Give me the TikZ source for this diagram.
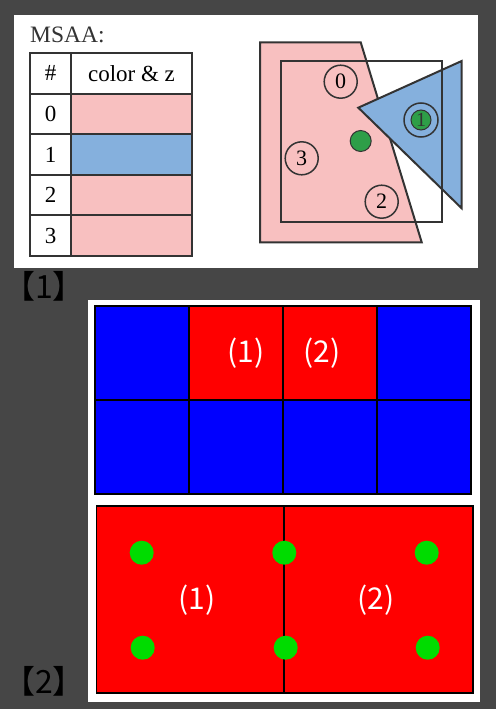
\documentclass[tikz,border=0pt]{standalone}
\usepackage{fontspec}
\setmainfont{Liberation Serif}
\newfontfamily\cjk{Noto Sans CJK SC}
\definecolor{bg}{RGB}{70,70,70}
\definecolor{pinkf}{RGB}{248,192,192}
\definecolor{bluef}{RGB}{133,176,221}
\definecolor{lineg}{RGB}{51,51,51}
\definecolor{greenf}{RGB}{46,158,72}
\definecolor{dotg}{RGB}{0,220,0}
\definecolor{pblue}{RGB}{0,0,255}
\definecolor{pred}{RGB}{255,0,0}
\begin{document}
\begin{tikzpicture}[x=1pt,y=-1pt,
  tcell/.style={draw=lineg,line width=2pt,minimum height=40.6pt,inner sep=0pt,
     font=\fontsize{23}{25}\selectfont},
  numcell/.style={tcell,minimum width=41pt,fill=white},
  colcell/.style={tcell,minimum width=121pt},
  sample/.style={circle,draw=lineg,line width=1.5pt,minimum size=33pt,inner sep=0pt,
     font=\fontsize{22}{24}\selectfont},
  gdot/.style={circle,fill=greenf,draw=lineg,line width=1pt,minimum size=21pt,inner sep=0pt},
  shapeline/.style={draw=lineg,line width=2pt,line join=miter},
  gridcell/.style={draw=black,line width=1.8pt,minimum width=93.9pt,minimum height=94.1pt,inner sep=0pt},
  wlabel/.style={text=white,font=\cjk\fontsize{30}{32}\selectfont},
  mdot/.style={circle,fill=dotg,minimum size=24pt,inner sep=0pt},
  tag/.style={text=black,font=\cjk\fontsize{32}{34}\selectfont,inner sep=0pt}]
\fill[bg] (0,0) rectangle (496,709);
\useasboundingbox (0,0) rectangle (496,709);
% ---------- panel 1 ----------
\fill[white] (14,15) rectangle (478,268);
\node[anchor=base west,inner sep=0pt,font=\fontsize{23.5}{25}\selectfont,text=lineg] (title) at (30,43) {MSAA:};
\node[numcell] (h0) at (50.5,73.3) {\#};
\node[colcell,fill=white] (h1) at (131.5,73.3) {color \& z};
\foreach \i/\c in {0/pinkf,1/bluef,2/pinkf,3/pinkf}{
  \node[numcell] (n\i) at (50.5,113.9+40.6*\i) {\i};
  \node[colcell,fill=\c] (c\i) at (131.5,113.9+40.6*\i) {};
}
% geometry
\filldraw[shapeline,fill=pinkf] (260,42.3) -- (360.7,42.3) -- (421.7,242.3) -- (260,242.3) -- cycle;
\filldraw[shapeline,fill=bluef] (358.3,107.7) -- (461.7,61) -- (461.7,208.3) -- cycle;
\draw[shapeline] (280.7,61) rectangle (441.7,222.3);
\node[sample] (s0) at (340.7,81.7) {0};
\node[sample] (s3) at (301.7,158.3) {3};
\node[sample] (s2) at (381.7,201.7) {2};
\node[sample,minimum size=34pt] (s1) at (421,120) {};
\node[gdot,minimum size=20pt,font=\fontsize{20}{22}\selectfont,text=lineg] (s1in) at (s1.center) {1};
\node[gdot] (centroid) at (360.7,141) {};
\node[tag,anchor=west] (tag1) at (3,286) {【1】};
% ---------- panel 2 ----------
\fill[white] (88.3,300) rectangle (480,701.7);
\foreach \r in {0,1}{
  \foreach \k in {0,1,2,3}{
    \node[gridcell,fill=pblue] (g\r\k) at (95+93.9*\k+46.95,305.7+94.1*\r+47.05) {};
  }
}
\node[gridcell,fill=pred] (g01r) at (g01) {};
\node[gridcell,fill=pred] (g02r) at (g02) {};
\node[wlabel] (l1) at (245.7,353.3) {(1)};
\node[wlabel] (l2) at (322.3,353.3) {(2)};
\node[draw=black,line width=1.8pt,fill=pred,minimum width=188pt,minimum height=187.6pt,inner sep=0pt] (big1) at (190.5,599.5) {};
\node[draw=black,line width=1.8pt,fill=pred,minimum width=188.4pt,minimum height=187.6pt,inner sep=0pt] (big2) at (378.5,599.5) {};
\node[wlabel] (b1) at (196.7,600) {(1)};
\node[wlabel] (b2) at (376,600) {(2)};
\node[mdot] (d1) at (141.7,552.7) {};
\node[mdot] (d2) at (284.3,552.7) {};
\node[mdot] (d3) at (426.7,552.7) {};
\node[mdot] (d4) at (142.7,647.7) {};
\node[mdot] (d5) at (285.7,647.7) {};
\node[mdot] (d6) at (427.7,647.7) {};
\node[tag,anchor=west] (tag2) at (3,681) {【2】};
\end{tikzpicture}
\end{document}
